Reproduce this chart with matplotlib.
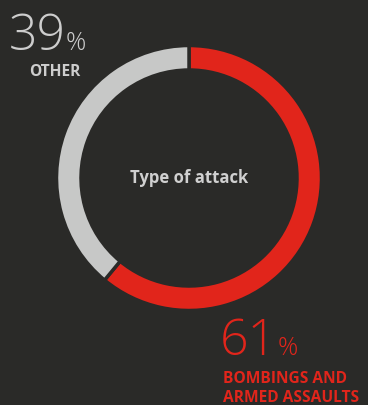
import matplotlib.pyplot as plt

# data
labels = ["BOMBINGS AND\nARMED ASSAULTS", "OTHER"]
shares = [61, 39]
colors = ["#e1251b", "#c7c8c7"]
bg = "#2a2a28"
light = "#cdcdcd"

fig = plt.figure(figsize=(3.68, 4.05), dpi=100, facecolor=bg)
ax = fig.add_axes([0, 0, 1, 1])
ax.set_facecolor(bg)

ax.pie(shares, colors=colors, startangle=90, counterclock=False,
       center=(189, 227), radius=132.5, frame=True,
       wedgeprops=dict(width=24.5, edgecolor=bg, linewidth=2.5))
ax.set_xlim(0, 368)
ax.set_ylim(0, 405)
ax.set_aspect("equal")
ax.axis("off")

ax.text(189, 227, "Type of attack", ha="center", va="center",
        fontsize=12, fontweight="bold", color="#d0d0d0", family="Open Sans")

# 39% OTHER
ax.text(9, 355, str(shares[1]), ha="left", va="baseline", fontsize=36,
        fontweight="light", color=light, family="Open Sans")
ax.text(66, 355, "%", ha="left", va="baseline", fontsize=18,
        fontweight="light", color=light, family="Open Sans")
ax.text(29, 329, labels[1], ha="left", va="baseline", fontsize=11.2,
        fontweight="bold", color=light, family="Open Sans")

# 61% BOMBINGS AND ARMED ASSAULTS
ax.text(220, 50, str(shares[0]), ha="left", va="baseline", fontsize=36,
        fontweight="light", color=colors[0], family="Open Sans")
ax.text(278, 50, "%", ha="left", va="baseline", fontsize=18,
        fontweight="light", color=colors[0], family="Open Sans")
for i, line in enumerate(labels[0].split("\n")):
    ax.text(223, 22 - 19 * i, line, ha="left", va="baseline", fontsize=11.2,
            fontweight="bold", color=colors[0], family="Open Sans")

fig.savefig("out.png", dpi=100, facecolor=bg)
